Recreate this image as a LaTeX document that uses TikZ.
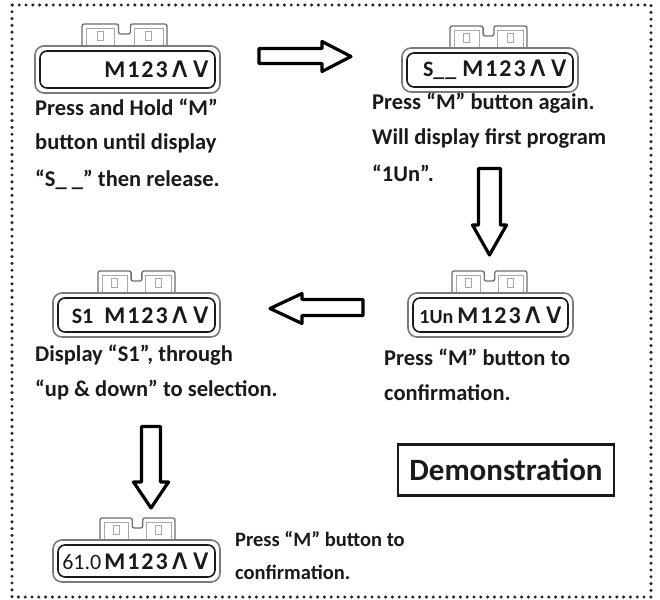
\documentclass[tikz,border=0pt]{standalone}
\usepackage{fontspec}
\setmainfont{Carlito}
\newfontfamily\symfont{DejaVu Sans}
\definecolor{tabgray}{HTML}{6E6E6E}
\definecolor{lightgray2}{HTML}{A8A8A8}
\definecolor{outergray}{HTML}{7A7A7A}
\definecolor{ink}{HTML}{1A1A1A}
\tikzset{
  tabline/.style={draw=tabgray, line width=1.3pt, rounded corners=2pt, fill=white},
  tabdetail/.style={draw=lightgray2, line width=0.9pt},
  bodyouter/.style={draw=outergray, line width=1.6pt, rounded corners=9pt, fill=white, inner sep=0pt},
  bodyinner/.style={draw=ink, line width=1.6pt, rounded corners=7pt},
  devtext/.style={font=\fontsize{24}{28}\selectfont\bfseries, text=ink, inner sep=0pt},
  caption/.style={font=\fontsize{22.5}{27}\selectfont\bfseries, text=ink, anchor=west, inner sep=0pt},
  smallcaption/.style={font=\fontsize{20.5}{25}\selectfont\bfseries, text=ink, anchor=west, inner sep=0pt},
  blockarrow/.style={draw=black, line width=3.2pt, line join=round, fill=white},
  demobox/.style={draw=ink, line width=2.2pt, font=\fontsize{31}{35}\selectfont\bfseries, text=ink, minimum width=216pt, minimum height=51pt, inner sep=0pt},
  frame/.style={draw=black!85, line width=3.4pt, dash pattern=on 0pt off 6.8pt, line cap=round}
}
\newcommand\updn{{\symfont\mdseries\fontsize{22}{26}\selectfont\kern3pt\makebox[18pt]{\scalebox{1.45}[1.3]{∧}}\kern3pt\makebox[18pt]{\scalebox{1.45}[1.3]{∨}}}}
\newcommand\mnum{M\kern2pt1\kern2pt2\kern2pt3}
\newcommand\pre[2][22]{{\fontsize{#1}{26}\selectfont #2}}
% #1 name, #2 x0, #3 y0, #4 x1, #5 y1, #6 tab x, #7 tab width, #8 text
\newcommand\devicebox[8]{%
  \draw[tabline] (#6,#3+2) |- ({#6+0.43*#7},#3-22) |- ({#6+0.57*#7},#3-12) |- ({#6+#7},#3-22) -- ({#6+#7},#3+2) -- cycle;
  \draw[tabdetail] ({#6+4},#3-18) rectangle ({#6+0.43*#7-4},#3-1);
  \draw[tabdetail] ({#6+0.57*#7+4},#3-18) rectangle ({#6+#7-4},#3-1);
  \draw[tabdetail] ({#6+0.215*#7-3},#3-15) rectangle ({#6+0.215*#7+3},#3-6);
  \draw[tabdetail] ({#6+0.785*#7-3},#3-15) rectangle ({#6+0.785*#7+3},#3-6);
  \node[bodyouter, minimum width={#4-#2}, minimum height={#5-#3}] (#1) at ({(#2+#4)/2},{(#3+#5)/2}) {};
  \draw[bodyinner] (#2+5,#3+5) rectangle (#4-5,#5-5);
  \node[devtext, anchor=east] (#1-t) at (#4-10,{(#3+#5)/2}) {#8};
}
\begin{document}
\begin{tikzpicture}[x=1pt,y=-1pt]
\useasboundingbox (0,0) rectangle (660,599);
\draw[frame] (12,5) rectangle (651,597);

\devicebox{d1}{35}{46}{220}{93}{82}{85}{\mnum\updn}
\devicebox{d2}{402}{48}{578}{92}{450}{77}{\pre{S\_\kern1pt\_}\kern6pt\mnum\updn}
\devicebox{d3}{408}{293}{573}{337}{452}{75}{\pre[20]{1Un}\kern4pt\mnum\updn}
\devicebox{d4}{53}{293}{220}{337}{98}{77}{\pre{S1}\kern11pt\mnum\updn}
\devicebox{d5}{53}{540}{220}{582}{100}{75}{\pre{\mdseries 61.0}\kern3pt\mnum\updn}

% block arrows
\draw[blockarrow] (259,48.5) -- (322,48.5) -- (322,41.5) -- (351,56.5) -- (322,71.5) -- (322,63.5) -- (259,63.5) -- cycle;
\draw[blockarrow] (478.5,168.5) -- (500.5,168.5) -- (500.5,225) -- (506.5,225) -- (489.5,255) -- (472.5,225) -- (478.5,225) -- cycle;
\draw[blockarrow] (363,299.5) -- (302,299.5) -- (302,293.5) -- (270,308.5) -- (302,323.5) -- (302,315.5) -- (363,315.5) -- cycle;
\draw[blockarrow] (141.5,426.5) -- (160.5,426.5) -- (160.5,482) -- (168.5,482) -- (151,508) -- (133.5,482) -- (141.5,482) -- cycle;

% captions
\node[caption] (c1a) at (35,107) {Press and Hold “M”};
\node[caption] (c1b) at (35,143) {button until display};
\node[caption] (c1c) at (35,180) {“S\_ \_” then release.};

\node[caption] (c2a) at (372,103) {Press “M” button again.};
\node[caption] (c2b) at (372,138) {Will display first program};
\node[caption] (c2c) at (372,173) {“1Un”.};

\node[caption] (c3a) at (384,357) {Press “M” button to};
\node[caption] (c3b) at (384,393) {confirmation.};

\node[caption] (c4a) at (35,355) {Display “S1”, through};
\node[caption] (c4b) at (35,390) {“up \& down” to selection.};

\node[smallcaption] (c5a) at (235,539) {Press “M” button to};
\node[smallcaption] (c5b) at (235,572) {confirmation.};

\node[demobox] (demo) at (506,470) {Demonstration};
\end{tikzpicture}
\end{document}
